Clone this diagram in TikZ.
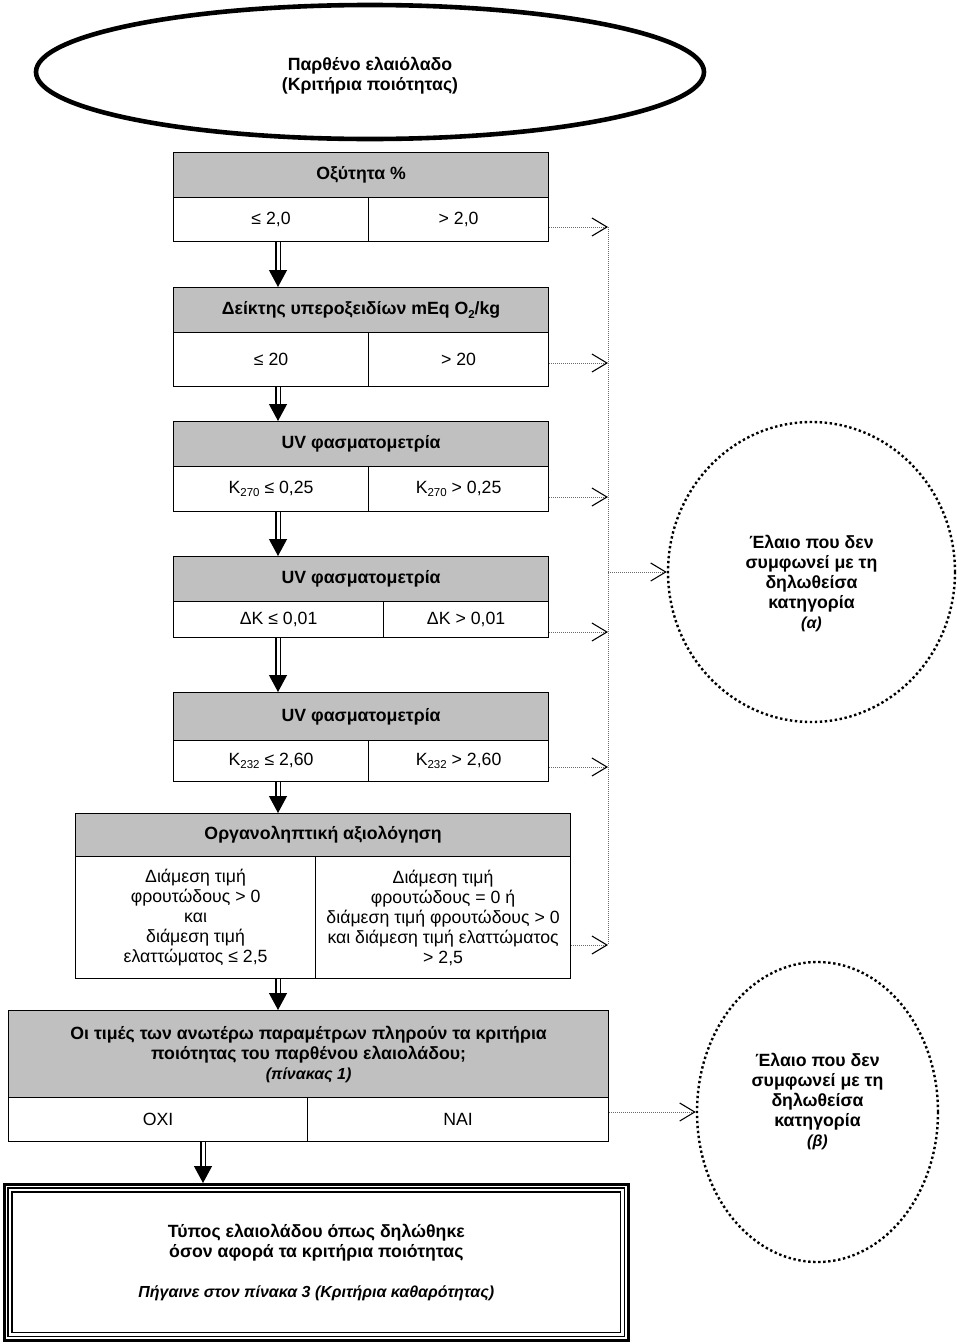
\documentclass[tikz,border=0pt]{standalone}
\usepackage{fontspec}
\setmainfont{Liberation Sans}
\usetikzlibrary{shapes.geometric,arrows.meta}
\definecolor{hdrgray}{HTML}{C0C0C0}
\definecolor{dotgray}{HTML}{6A6A6A}
\newcommand{\fbody}{\fontsize{17.7}{20}\selectfont}
\newcommand{\fsmall}{\fontsize{16}{20}\selectfont}
\newcommand{\lowidx}[1]{\raisebox{-0.35ex}{\fontsize{11.5}{11.5}\selectfont #1}}
\tikzset{
  hdr/.style={draw, fill=hdrgray, line width=1.2pt, anchor=north west, inner sep=0pt, align=center, font=\fbody\bfseries},
  cell/.style={draw, fill=white, line width=1.2pt, anchor=north west, inner sep=0pt, align=center, font=\fbody},
  dbl/.style={double, double distance=3pt, line width=1.2pt, -{Triangle[width=18pt,length=17pt]}},
  dotline/.style={draw=dotgray, line width=0.9pt, dash pattern=on 1pt off 1pt},
  dotarr/.style={dotline, -{Straight Barb[length=15pt,width=18pt,line width=1.1pt,color=black]}},
  rejcirc/.style={ellipse, draw, line width=2.4pt, dash pattern=on 2.4pt off 2.6pt, inner sep=0pt},
  rejtext/.style={align=center, font=\fbody\bfseries, inner sep=0pt}
}
\begin{document}
\begin{tikzpicture}[x=1pt, y=-1pt]
\useasboundingbox (0,0) rectangle (956,1344);

% start ellipse
\node[ellipse, draw, line width=4.6pt, minimum width=668pt, minimum height=134pt, inner sep=0pt] (start) at (370,72) {};
\node[align=center, font=\fbody\bfseries, inner sep=0pt] (startt) at (370,76) {Παρθένο ελαιόλαδο\\(Κριτήρια ποιότητας)};

% box 1
\node[hdr, minimum width=375pt, minimum height=45pt] (h1) at (173,152) {Οξύτητα \%};
\node[cell, minimum width=195pt, minimum height=44pt] (l1) at (173,197) {≤ 2,0};
\node[cell, minimum width=180pt, minimum height=44pt] (r1) at (368,197) {> 2,0};

% box 2
\node[hdr, minimum width=375pt, minimum height=45pt] (h2) at (173,287) {Δείκτης υπεροξειδίων mEq O\lowidx{2}/kg};
\node[cell, minimum width=195pt, minimum height=54pt] (l2) at (173,332) {≤ 20};
\node[cell, minimum width=180pt, minimum height=54pt] (r2) at (368,332) {> 20};

% box 3
\node[hdr, minimum width=375pt, minimum height=45pt] (h3) at (173,421) {UV φασματομετρία};
\node[cell, minimum width=195pt, minimum height=45pt] (l3) at (173,466) {K\lowidx{270} ≤ 0,25};
\node[cell, minimum width=180pt, minimum height=45pt] (r3) at (368,466) {K\lowidx{270} > 0,25};

% box 4
\node[hdr, minimum width=375pt, minimum height=45pt] (h4) at (173,556) {UV φασματομετρία};
\node[cell, minimum width=210pt, minimum height=36pt] (l4) at (173,601) {ΔK ≤ 0,01};
\node[cell, minimum width=165pt, minimum height=36pt] (r4) at (383,601) {ΔK > 0,01};

% box 5
\node[hdr, minimum width=375pt, minimum height=48pt] (h5) at (173,692) {UV φασματομετρία};
\node[cell, minimum width=195pt, minimum height=41pt] (l5) at (173,740) {K\lowidx{232} ≤ 2,60};
\node[cell, minimum width=180pt, minimum height=41pt] (r5) at (368,740) {K\lowidx{232} > 2,60};

% box 6
\node[hdr, minimum width=495pt, minimum height=43pt] (h6) at (75,813) {Οργανοληπτική αξιολόγηση};
\node[cell, minimum width=240pt, minimum height=122pt] (l6) at (75,856) {Διάμεση τιμή\\φρουτώδους > 0\\και\\διάμεση τιμή\\ελαττώματος ≤ 2,5};
\node[cell, minimum width=255pt, minimum height=122pt] (r6) at (315,856) {Διάμεση τιμή\\φρουτώδους = 0 ή\\διάμεση τιμή φρουτώδους > 0\\και διάμεση τιμή ελαττώματος\\> 2,5};

% box 7
\node[hdr, minimum width=600pt, minimum height=87pt] (h7) at (8,1010) {Οι τιμές των ανωτέρω παραμέτρων πληρούν τα κριτήρια\\ποιότητας του παρθένου ελαιολάδου;\\{\fsmall\itshape (πίνακας 1)}};
\node[cell, minimum width=299pt, minimum height=44pt] (l7) at (8,1097) {ΟΧΙ};
\node[cell, minimum width=301pt, minimum height=44pt] (r7) at (307,1097) {ΝΑΙ};

% final box
\node[draw, line width=2.6pt, minimum width=624pt, minimum height=156pt, anchor=north west, inner sep=0pt, align=center, font=\fbody\bfseries] (final) at (3,1183) {Τύπος ελαιολάδου όπως δηλώθηκε\\όσον αφορά τα κριτήρια ποιότητας\\[20pt]{\fsmall\itshape Πήγαινε στον πίνακα 3 (Κριτήρια καθαρότητας)}};
\draw[line width=1.1pt] ([shift={(5,5)}]final.north west) rectangle ([shift={(-5,-5)}]final.south east);
\draw[line width=1.5pt] ([shift={(9,9)}]final.north west) rectangle ([shift={(-9,-9)}]final.south east);

% reject circles
\node[rejcirc, minimum width=287pt, minimum height=300pt] (circA) at (811.5,572) {};
\node[rejtext] (circAt) at (811.5,584) {Έλαιο που δεν\\συμφωνεί με τη\\δηλωθείσα\\κατηγορία\\{\fsmall\itshape (α)}};
\node[rejcirc, minimum width=241pt, minimum height=300pt] (circB) at (817.5,1112) {};
\node[rejtext] (circBt) at (817.5,1102) {Έλαιο που δεν\\συμφωνεί με τη\\δηλωθείσα\\κατηγορία\\{\fsmall\itshape (β)}};

% double arrows
\coordinate (ax) at (278,0);
\coordinate (bx) at (203,0);
\draw[dbl] (l1.south -| ax) -- (h2.north -| ax);
\draw[dbl] (l2.south -| ax) -- (h3.north -| ax);
\draw[dbl] (l3.south -| ax) -- (h4.north -| ax);
\draw[dbl] (l4.south -| ax) -- (h5.north -| ax);
\draw[dbl] (l5.south -| ax) -- (h6.north -| ax);
\draw[dbl] (l6.south -| ax) -- (h7.north -| ax);
\draw[dbl] (l7.south -| bx) -- (final.north -| bx);

% dotted reject connectors
\coordinate (a1) at (608,227);
\coordinate (a2) at (608,363);
\coordinate (a3) at (608,497);
\coordinate (a4) at (608,632);
\coordinate (a5) at (608,767);
\coordinate (a6) at (608,945);
\coordinate (am) at (608,572);
\draw[dotline] (a1) -- (a6);
\draw[dotarr] (r1.east |- a1) -- (a1);
\draw[dotarr] (r2.east |- a2) -- (a2);
\draw[dotarr] (r3.east |- a3) -- (a3);
\draw[dotarr] (r4.east |- a4) -- (a4);
\draw[dotarr] (r5.east |- a5) -- (a5);
\draw[dotarr] (r6.east |- a6) -- (a6);
\draw[dotarr] (am) -- (circA.west);
\draw[dotarr] (r7.east |- circB.west) -- (circB.west);
\end{tikzpicture}
\end{document}
